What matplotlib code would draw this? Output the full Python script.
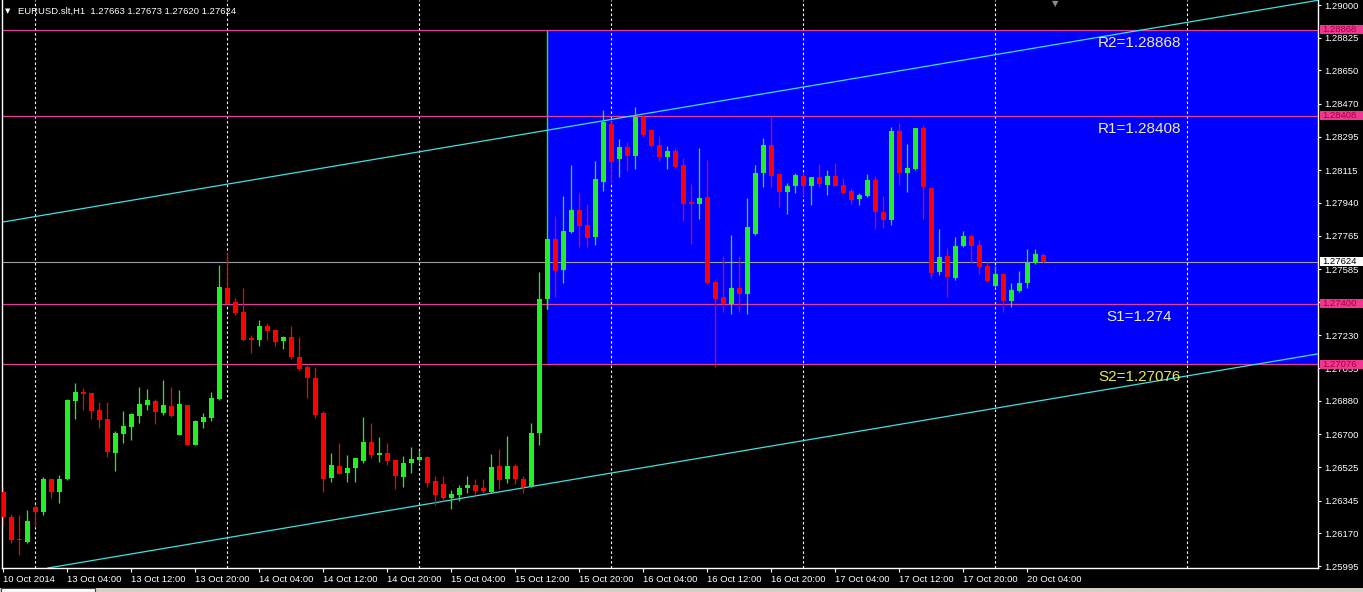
import matplotlib
matplotlib.use('Agg')
import matplotlib.pyplot as plt
from matplotlib.patches import Rectangle
import numpy as np

# ---------------- data (EURUSD H1, bars from 10 Oct 2014 20:00) ----------------
opens = [1.26391, 1.26257, 1.26139, 1.26123, 1.26311, 1.26284, 1.26461, 1.26391, 1.26461, 1.26879,
         1.26927, 1.26921, 1.26830, 1.26782, 1.26600, 1.26702, 1.26739, 1.26798, 1.26857, 1.26879,
         1.26814, 1.26852, 1.26696, 1.26857, 1.26643, 1.26766, 1.26788, 1.26889, 1.27484, 1.27409,
         1.27355, 1.27216, 1.27205, 1.27280, 1.27259, 1.27200, 1.27221, 1.27114, 1.27061, 1.27002,
         1.26814, 1.26466, 1.26530, 1.26493, 1.26520, 1.26557, 1.26659, 1.26589, 1.26600, 1.26563,
         1.26472, 1.26546, 1.26563, 1.26579, 1.26450, 1.26434, 1.26359, 1.26375, 1.26413, 1.26429,
         1.26413, 1.26391, 1.26530, 1.26461, 1.26530, 1.26461, 1.26423, 1.26707, 1.27425, 1.27746,
         1.27580, 1.27784, 1.27902, 1.27821, 1.27757, 1.28052, 1.28363, 1.28175, 1.28239, 1.28191,
         1.28400, 1.28330, 1.28250, 1.28186, 1.28218, 1.28143, 1.27945, 1.27934, 1.27971, 1.27516,
         1.27436, 1.27398, 1.27484, 1.27452, 1.27773, 1.28100, 1.28250, 1.28095, 1.27998, 1.28030,
         1.28084, 1.28030, 1.28079, 1.28036, 1.28084, 1.28036, 1.28004, 1.27961, 1.27977, 1.28062,
         1.27891, 1.27848, 1.28325, 1.28100, 1.28121, 1.28341, 1.28020, 1.27570, 1.27655, 1.27538,
         1.27709, 1.27763, 1.27714, 1.27602, 1.27495, 1.27559, 1.27414, 1.27468, 1.27511, 1.27618,
         1.27663]
highs = [1.26413, 1.26273, 1.26268, 1.26295, 1.26322, 1.26472, 1.26461, 1.26482, 1.26889, 1.26975,
         1.26948, 1.26921, 1.26873, 1.26873, 1.26718, 1.26825, 1.26814, 1.26954, 1.26943, 1.26889,
         1.26991, 1.26954, 1.26938, 1.26857, 1.26777, 1.26814, 1.26927, 1.27607, 1.27677, 1.27430,
         1.27484, 1.27232, 1.27313, 1.27296, 1.27259, 1.27227, 1.27280, 1.27221, 1.27071, 1.27061,
         1.26825, 1.26600, 1.26654, 1.26589, 1.26573, 1.26793, 1.26761, 1.26686, 1.26654, 1.26563,
         1.26584, 1.26632, 1.26616, 1.26584, 1.26477, 1.26477, 1.26402, 1.26429, 1.26477, 1.26461,
         1.26461, 1.26595, 1.26621, 1.26691, 1.26541, 1.26477, 1.26761, 1.27570, 1.27746, 1.27870,
         1.27977, 1.28143, 1.27993, 1.27934, 1.28164, 1.28438, 1.28379, 1.28282, 1.28266, 1.28454,
         1.28416, 1.28330, 1.28298, 1.28245, 1.28234, 1.28180, 1.28041, 1.28234, 1.28170, 1.27527,
         1.27655, 1.27768, 1.27655, 1.27966, 1.28143, 1.28288, 1.28400, 1.28095, 1.28046, 1.28100,
         1.28100, 1.28079, 1.28148, 1.28116, 1.28154, 1.28073, 1.28020, 1.27993, 1.28095, 1.28084,
         1.27977, 1.28346, 1.28368, 1.28255, 1.28341, 1.28357, 1.28020, 1.27800, 1.27698, 1.27757,
         1.27789, 1.27773, 1.27741, 1.27623, 1.27602, 1.27564, 1.27511, 1.27575, 1.27693, 1.27693,
         1.27673]
lows = [1.26209, 1.26118, 1.26054, 1.26118, 1.26204, 1.26268, 1.26359, 1.26332, 1.26455, 1.26782,
        1.26830, 1.26782, 1.26734, 1.26579, 1.26504, 1.26654, 1.26670, 1.26761, 1.26830, 1.26755,
        1.26804, 1.26793, 1.26696, 1.26643, 1.26643, 1.26734, 1.26771, 1.26884, 1.27398, 1.27339,
        1.27200, 1.27136, 1.27173, 1.27205, 1.27173, 1.27157, 1.27104, 1.27045, 1.26895, 1.26788,
        1.26391, 1.26445, 1.26488, 1.26445, 1.26445, 1.26546, 1.26573, 1.26552, 1.26536, 1.26407,
        1.26418, 1.26493, 1.26552, 1.26418, 1.26322, 1.26343, 1.26300, 1.26343, 1.26386, 1.26375,
        1.26386, 1.26386, 1.26407, 1.26439, 1.26434, 1.26386, 1.26418, 1.26643, 1.27372, 1.27436,
        1.27511, 1.27779, 1.27704, 1.27704, 1.27714, 1.28004, 1.28052, 1.28079, 1.28111, 1.28121,
        1.28293, 1.28239, 1.28164, 1.28121, 1.28127, 1.27843, 1.27720, 1.27854, 1.27505, 1.27061,
        1.27355, 1.27345, 1.27355, 1.27345, 1.27768, 1.28025, 1.28025, 1.27918, 1.27880, 1.27993,
        1.27977, 1.27929, 1.28025, 1.27982, 1.28030, 1.27988, 1.27934, 1.27929, 1.27971, 1.27800,
        1.27805, 1.27821, 1.28036, 1.27998, 1.28116, 1.27854, 1.27538, 1.27554, 1.27436, 1.27527,
        1.27704, 1.27618, 1.27559, 1.27516, 1.27489, 1.27355, 1.27382, 1.27462, 1.27484, 1.27613,
        1.27620]
closes = [1.26257, 1.26134, 1.26134, 1.26236, 1.26284, 1.26461, 1.26391, 1.26461, 1.26884, 1.26927,
          1.26916, 1.26825, 1.26777, 1.26605, 1.26707, 1.26745, 1.26809, 1.26863, 1.26884, 1.26820,
          1.26857, 1.26798, 1.26863, 1.26643, 1.26771, 1.26793, 1.26895, 1.27489, 1.27398, 1.27350,
          1.27205, 1.27205, 1.27280, 1.27254, 1.27195, 1.27221, 1.27114, 1.27050, 1.27002, 1.26804,
          1.26461, 1.26536, 1.26488, 1.26520, 1.26573, 1.26659, 1.26589, 1.26600, 1.26557, 1.26477,
          1.26546, 1.26568, 1.26579, 1.26439, 1.26375, 1.26359, 1.26380, 1.26413, 1.26429, 1.26397,
          1.26397, 1.26525, 1.26455, 1.26530, 1.26461, 1.26418, 1.26707, 1.27425, 1.27746, 1.27575,
          1.27789, 1.27902, 1.27816, 1.27752, 1.28068, 1.28373, 1.28159, 1.28239, 1.28191, 1.28400,
          1.28304, 1.28245, 1.28186, 1.28218, 1.28132, 1.27934, 1.27934, 1.27966, 1.27511, 1.27425,
          1.27398, 1.27484, 1.27452, 1.27811, 1.28100, 1.28250, 1.28084, 1.27998, 1.28030, 1.28089,
          1.28030, 1.28079, 1.28041, 1.28084, 1.28030, 1.27993, 1.27955, 1.27982, 1.28062, 1.27891,
          1.27848, 1.28325, 1.28100, 1.28127, 1.28341, 1.28025, 1.27564, 1.27650, 1.27543, 1.27709,
          1.27763, 1.27709, 1.27597, 1.27521, 1.27559, 1.27414, 1.27473, 1.27511, 1.27618, 1.27666,
          1.27624]

x_tick_labels = ["10 Oct 2014", "13 Oct 04:00", "13 Oct 12:00", "13 Oct 20:00", "14 Oct 04:00",
                 "14 Oct 12:00", "14 Oct 20:00", "15 Oct 04:00", "15 Oct 12:00", "15 Oct 20:00",
                 "16 Oct 04:00", "16 Oct 12:00", "16 Oct 20:00", "17 Oct 04:00", "17 Oct 12:00",
                 "17 Oct 20:00", "20 Oct 04:00"]
y_tick_values = [1.29000, 1.28825, 1.28650, 1.28470, 1.28295, 1.28115, 1.27940, 1.27765, 1.27585,
                 1.27410, 1.27230, 1.27055, 1.26880, 1.26700, 1.26525, 1.26345, 1.26170, 1.25995]
level_names = ["R2", "R1", "S1", "S2"]
level_values = [1.28868, 1.28408, 1.274, 1.27076]
current_price = 1.27624
day_start_bars = [4, 28, 52, 76, 100, 124, 148]
upper_channel = [(0, 1.27838), (160, 1.28994)]
lower_channel = [(0, 1.25944), (160, 1.27100)]
box_start_bar = 68
symbol = "EURUSD.slt,H1"

# ---------------- figure ----------------
W, H = 1363, 592
fig = plt.figure(figsize=(W / 100, H / 100), dpi=100, facecolor='black')
ax = fig.add_axes([2 / W, 24 / H, 1316 / W, 568 / H], facecolor='black')
ymin, ymax = 1.259843, 1.290268
ax.set_ylim(ymin, ymax)
ax.set_xlim(-0.1625, 164.34)
ppx = (ymax - ymin) / 568.0  # price per pixel

o = np.array(opens); h = np.array(highs); l = np.array(lows); c = np.array(closes)
h = np.maximum(h, np.maximum(o, c)); l = np.minimum(l, np.minimum(o, c))
xs = np.arange(len(o))

R2, R1, S1, S2 = level_values
# blue rectangle
ax.add_patch(Rectangle((box_start_bar, S2), 300, R2 - S2, facecolor='#0000ff',
                       edgecolor='none', zorder=0.5))
ax.vlines([box_start_bar], l[box_start_bar], R2, colors='#22f022', lw=1.0, zorder=0.8)

# grid (day separators)
ax.vlines(day_start_bars, ymin, ymax, colors='white', linestyles=(0, (2.2, 2.2)), lw=0.8, zorder=1)

# level lines
for v in level_values:
    ax.axhline(v, color='#e0409a', lw=0.9, zorder=1.5)
ax.axhline(current_price, color='#a0a0a8', lw=0.8, zorder=1.5)

# channel
for (p1, p2) in [upper_channel, lower_channel]:
    ax.axline(p1, p2, color='#40e0e0', lw=0.9, zorder=1.6)

# candles
up = c >= o
col = np.where(up, '#22f022', '#ff0000')
ax.vlines(xs, l, h, colors=col, lw=0.9, zorder=3)
body_h = np.maximum(np.abs(c - o), ppx * 1.2)
ax.bar(xs, body_h, bottom=np.minimum(o, c), width=0.62, color=col, linewidth=0, zorder=3.1)

# level labels
lab_colors = ['#ecebc0', '#ecebc0', '#ecebc0', '#e6e65a']
for name, v, lc in zip(level_names, level_values, lab_colors):
    ax.annotate(f"{name}={v}", xy=(142, v), xytext=(0, -9.5), textcoords='offset points',
                ha='center', va='center', fontsize=11, color=lc, family='Liberation Sans', zorder=4)

# spines
for s in ['left', 'bottom', 'right']:
    ax.spines[s].set_color('white'); ax.spines[s].set_linewidth(1.0)
ax.spines['top'].set_visible(False)

# axis ticks
ax.yaxis.tick_right()
ax.set_yticks(y_tick_values)
ax.set_yticklabels([f"{v:.5f}" for v in y_tick_values])
ax.tick_params(axis='y', colors='white', labelcolor='white', length=2.5, width=0.8, pad=2,
               labelsize=6.8, direction='out')
ax.set_xticks(np.arange(0, 8 * len(x_tick_labels), 8))
ax.set_xticklabels(x_tick_labels, ha='left')
ax.tick_params(axis='x', colors='white', labelcolor='white', length=3, width=0.8, pad=2,
               labelsize=6.8)
for t in ax.get_xticklabels() + ax.get_yticklabels():
    t.set_family('Liberation Sans')

# price boxes on the right axis
def price_box(v, bg, fg):
    x0 = (1320 - 2) / 1316.0
    ax.add_patch(Rectangle((x0, v - 4.5 * ppx), 43 / 1316.0, 9 * ppx,
                           transform=ax.get_yaxis_transform(), facecolor=bg, edgecolor='none',
                           clip_on=False, zorder=10))
    ax.text(x0 + 2 / 1316.0, v, f"{v:.5f}", transform=ax.get_yaxis_transform(), ha='left',
            va='center', fontsize=6.8, color=fg, family='Liberation Sans', clip_on=False, zorder=11)

for v in level_values:
    price_box(v, '#f0368f', '#a8003f')
price_box(current_price, 'white', 'black')

# header
fig.text(8 / W, 1 - 11 / H, '▼', fontsize=5, color='white', ha='center', va='center',
         family='DejaVu Sans')
fig.text(18 / W, 1 - 11 / H,
         f"{symbol}  {opens[-1]:.5f} {highs[-1]:.5f} {lows[-1]:.5f} {closes[-1]:.5f}",
         fontsize=6.8, color='white', ha='left', va='center', family='Liberation Sans')
fig.text(1055 / W, 1 - 4 / H, '▼', fontsize=6, color='#8c8c8c', ha='center', va='center',
         family='DejaVu Sans')

# bottom tab strip
fig.add_artist(Rectangle((0, 0), 1, 4 / H, transform=fig.transFigure, facecolor='#d4d0c8',
                         edgecolor='none'))
fig.add_artist(Rectangle((1 / W, 0), 94 / W, 4 / H, transform=fig.transFigure, facecolor='white',
                         edgecolor='#404040', lw=0.8))

fig.savefig('out.png', dpi=100, facecolor='black')
